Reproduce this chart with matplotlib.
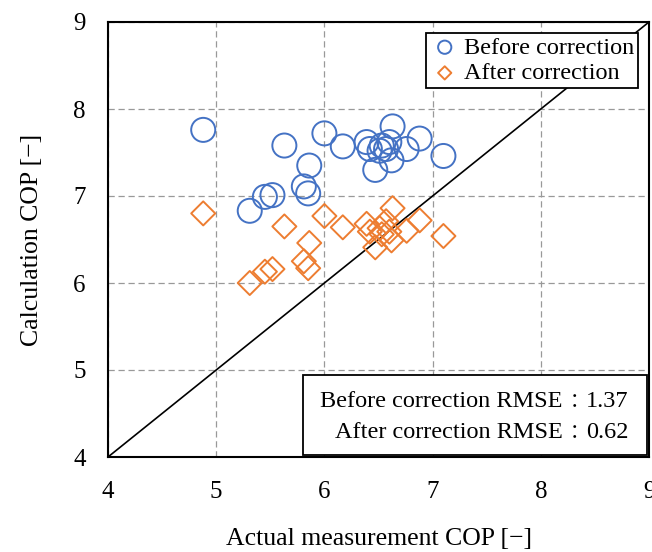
import matplotlib
matplotlib.use("Agg")
import matplotlib.pyplot as plt
from matplotlib.patches import Rectangle

plt.rcParams['font.family'] = ['Liberation Serif', 'Noto Sans CJK JP', 'DejaVu Serif']

# actual measured COP and the calculated COP before / after correction
actual = [4.88, 5.31, 5.45, 5.52, 5.63, 5.81, 5.85, 5.86, 6.00, 6.17, 6.39,
          6.42, 6.47, 6.51, 6.53, 6.57, 6.60, 6.62, 6.63, 6.76, 6.88, 7.10]
before = [7.76, 6.83, 6.99, 7.01, 7.58, 7.11, 7.03, 7.35, 7.72, 7.57, 7.62,
          7.54, 7.30, 7.52, 7.58, 7.54, 7.62, 7.41, 7.80, 7.54, 7.66, 7.46]
after = [6.80, 6.00, 6.13, 6.16, 6.65, 6.25, 6.17, 6.46, 6.77, 6.64, 6.68,
         6.59, 6.41, 6.63, 6.56, 6.71, 6.59, 6.49, 6.86, 6.60, 6.72, 6.54]
ticks = [4, 5, 6, 7, 8, 9]
rmse_labels = ['Before correction RMSE', 'After correction RMSE']
rmse_values = [1.37, 0.62]

blue = '#4472C4'
orange = '#ED7D31'

fig = plt.figure(figsize=(6.52, 5.52), dpi=100)
ax = fig.add_axes([108 / 652, 95 / 552, 541 / 652, 435 / 552])

ax.plot([4, 9], [4, 9], color='black', lw=1.2, zorder=2)
ax.scatter(actual, before, s=300, marker='o', facecolors='none',
           edgecolors=blue, linewidths=1.4, zorder=3, label='Before correction')
ax.scatter(actual, after, s=150, marker='D', facecolors='none',
           edgecolors=orange, linewidths=1.4, zorder=3, label='After correction')

ax.set_xlim(4, 9)
ax.set_ylim(4, 9)
ax.set_xticks(ticks)
ax.set_yticks(ticks)
ax.tick_params(length=0, labelsize=18)
ax.tick_params(axis='x', pad=17)
ax.tick_params(axis='y', pad=16)
ax.grid(True, color='#999999', ls=(0, (5, 3)), lw=0.9)
ax.set_axisbelow(True)
for sp in ax.spines.values():
    sp.set_linewidth(1.5)

ax.set_xlabel('Actual measurement COP [−]', fontsize=18.5, labelpad=18)
ax.set_ylabel('Calculation COP [−]', fontsize=18.5, labelpad=22)

leg = ax.legend(loc='upper right', fontsize=17.5, markerscale=0.55,
                handlelength=1.2, handletextpad=0.2, borderpad=0.15,
                labelspacing=0.15, fancybox=False, framealpha=1,
                borderaxespad=0.45)
leg.get_frame().set_edgecolor('black')
leg.get_frame().set_linewidth(1.3)

# RMSE box: label, full-width colon and value as separate pieces
ax.add_patch(Rectangle((0.360, 0.005), 0.636, 0.184, transform=ax.transAxes,
                       fc='white', ec='black', lw=1.3, zorder=5))
for i, (lab, val) in enumerate(zip(rmse_labels, rmse_values)):
    yb = 0.115 - i * 0.071
    ax.text(0.840, yb, lab, transform=ax.transAxes, ha='right', va='baseline',
            fontsize=17.5, zorder=6)
    ax.annotate('：', (0.863, yb), xycoords='axes fraction', xytext=(0, -1),
                textcoords='offset points', ha='center', va='baseline',
                fontsize=14, family='Noto Sans CJK JP', zorder=6)
    ax.text(0.884, yb, f'{val:.2f}', transform=ax.transAxes, ha='left',
            va='baseline', fontsize=17.5, zorder=6)

fig.savefig('out.png', dpi=100)
